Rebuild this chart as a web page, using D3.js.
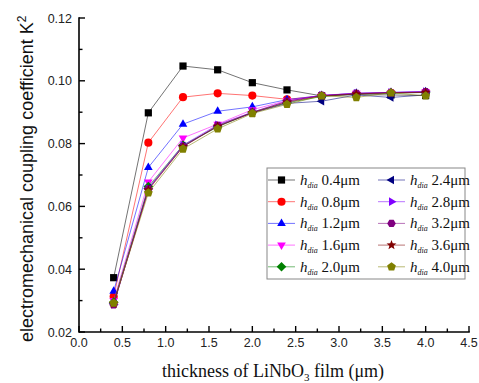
<!DOCTYPE html>
<meta charset="utf-8">
<head>
  <title>k2 vs thickness</title>
</head>
<style>
  body { margin: 0; background: #fff; }
  .tick-label { font-family: "Liberation Sans", Arial, sans-serif; font-size: 12.5px; fill: #222; }
  .ytitle { font-family: "Liberation Sans", Arial, sans-serif; font-size: 18px; fill: #111; }
  .xtitle { font-family: "Liberation Serif", "DejaVu Serif", serif; font-size: 18px; fill: #111; }
  .legend-text { font-family: "Liberation Serif", "DejaVu Serif", serif; font-size: 15px; fill: #111; }
</style>
<body>
  <svg width="479" height="383"></svg>

  <script src="https://cdnjs.cloudflare.com/ajax/libs/d3/7.8.5/d3.min.js"></script>
  <script>
    var thickness = [0.4, 0.8, 1.2, 1.6, 2.0, 2.4, 2.8, 3.2, 3.6, 4.0]

    var hdia = ['0.4', '0.8', '1.2', '1.6', '2.0', '2.4', '2.8', '3.2', '3.6', '4.0']

    var k2_04 = [0.0373, 0.0898, 0.1047, 0.1035, 0.0994, 0.0971, 0.0952, 0.0956, 0.0955, 0.0953]
    var k2_08 = [0.0313, 0.0803, 0.0948, 0.0960, 0.0953, 0.0941, 0.0952, 0.0958, 0.0962, 0.0963]
    var k2_12 = [0.0330, 0.0724, 0.0862, 0.0903, 0.0917, 0.0940, 0.0953, 0.0960, 0.0963, 0.0965]
    var k2_16 = [0.0300, 0.0678, 0.0818, 0.0862, 0.0908, 0.0937, 0.0953, 0.0960, 0.0962, 0.0965]
    var k2_20 = [0.0295, 0.0663, 0.0795, 0.0853, 0.0900, 0.0930, 0.0950, 0.0958, 0.0960, 0.0963]
    var k2_24 = [0.0290, 0.0658, 0.0792, 0.0856, 0.0898, 0.0928, 0.0935, 0.0955, 0.0947, 0.0955]
    var k2_28 = [0.0288, 0.0656, 0.0795, 0.0860, 0.0900, 0.0935, 0.0954, 0.0960, 0.0963, 0.0966]
    var k2_32 = [0.0287, 0.0655, 0.0790, 0.0858, 0.0900, 0.0935, 0.0953, 0.0960, 0.0962, 0.0965]
    var k2_36 = [0.0290, 0.0652, 0.0790, 0.0855, 0.0898, 0.0932, 0.0952, 0.0958, 0.0962, 0.0963]
    var k2_40 = [0.0292, 0.0643, 0.0783, 0.0847, 0.0896, 0.0925, 0.0952, 0.0947, 0.0962, 0.0952]

    var colors = ['#000000', '#ff0000', '#0000ff', '#ff00ff', '#008000',
      '#000080', '#8000ff', '#800080', '#800000', '#808000']
    var shapes = ['square', 'circle', 'up', 'down', 'diamond',
      'left', 'right', 'hexagon', 'star', 'pentagon']

    var xTicks = [0.0, 0.5, 1.0, 1.5, 2.0, 2.5, 3.0, 3.5, 4.0, 4.5]
    var yTicks = [0.02, 0.04, 0.06, 0.08, 0.10, 0.12]

    var allK2 = [k2_04, k2_08, k2_12, k2_16, k2_20, k2_24, k2_28, k2_32, k2_36, k2_40]
    var series = allK2.map(function(vals, i) {
      return {
        label: hdia[i],
        color: colors[i],
        shape: shapes[i],
        points: vals.map(function(v, j) { return { x: thickness[j], y: v } })
      }
    })

    var plotL = 79, plotR = 469, plotT = 18, plotB = 332

    var svg = d3.select('svg')

    var x = d3.scaleLinear().domain([0, 4.5]).range([plotL, plotR])
    var y = d3.scaleLinear().domain([0.02, 0.12]).range([plotB, plotT])

    // polygon markers in the style of origin
    function poly(n, r, rot) {
      var pts = []
      for (var k = 0; k < n; k++) {
        var a = rot + k * 2 * Math.PI / n
        pts.push([r * Math.cos(a), r * Math.sin(a)])
      }
      return 'M' + pts.map(function(p) { return p[0].toFixed(2) + ',' + p[1].toFixed(2) }).join('L') + 'Z'
    }
    function starPath(r) {
      var pts = []
      for (var k = 0; k < 10; k++) {
        var rr = k % 2 === 0 ? r : r * 0.42
        var a = -Math.PI / 2 + k * Math.PI / 5
        pts.push([rr * Math.cos(a), rr * Math.sin(a)])
      }
      return 'M' + pts.map(function(p) { return p[0].toFixed(2) + ',' + p[1].toFixed(2) }).join('L') + 'Z'
    }
    function markerPath(shape) {
      switch (shape) {
        case 'square': return 'M-3.6,-3.6L3.6,-3.6L3.6,3.6L-3.6,3.6Z'
        case 'circle': return d3.symbol().type(d3.symbolCircle).size(52)()
        case 'up': return poly(3, 5, -Math.PI / 2)
        case 'down': return poly(3, 5, Math.PI / 2)
        case 'left': return poly(3, 5, Math.PI)
        case 'right': return poly(3, 5, 0)
        case 'diamond': return poly(4, 4.8, 0)
        case 'hexagon': return poly(6, 4.3, 0)
        case 'star': return starPath(5.2)
        case 'pentagon': return poly(5, 4.6, -Math.PI / 2)
      }
    }

    // axes
    svg.append('line')
      .attr('x1', plotL).attr('x2', plotR + 0.8)
      .attr('y1', plotB).attr('y2', plotB)
      .attr('stroke', '#000').attr('stroke-width', 1.6)
    svg.append('line')
      .attr('x1', plotL).attr('x2', plotL)
      .attr('y1', plotT - 0.8).attr('y2', plotB + 0.8)
      .attr('stroke', '#000').attr('stroke-width', 1.6)

    svg.selectAll('.xtick')
      .data(d3.range(0, 19))
      .enter().append('line')
      .attr('x1', function(d) { return x(d * 0.25) })
      .attr('x2', function(d) { return x(d * 0.25) })
      .attr('y1', plotB)
      .attr('y2', function(d) { return d % 2 === 0 ? plotB - 6 : plotB - 3.5 })
      .attr('stroke', '#000').attr('stroke-width', 1.4)

    svg.selectAll('.ytick')
      .data(d3.range(0, 11))
      .enter().append('line')
      .attr('y1', function(d) { return y(0.02 + d * 0.01) })
      .attr('y2', function(d) { return y(0.02 + d * 0.01) })
      .attr('x1', plotL)
      .attr('x2', function(d) { return d % 2 === 0 ? plotL + 6 : plotL + 3.5 })
      .attr('stroke', '#000').attr('stroke-width', 1.4)

    svg.selectAll('.xlab')
      .data(xTicks)
      .enter().append('text')
      .attr('class', 'tick-label')
      .attr('x', function(d) { return x(d) })
      .attr('y', plotB + 15)
      .attr('text-anchor', 'middle')
      .text(function(d) { return d.toFixed(1) })

    svg.selectAll('.ylab')
      .data(yTicks)
      .enter().append('text')
      .attr('class', 'tick-label')
      .attr('x', plotL - 7)
      .attr('y', function(d) { return y(d) + 4.5 })
      .attr('text-anchor', 'end')
      .text(function(d) { return d.toFixed(2) })

    // titles
    var yt = svg.append('text')
      .attr('class', 'ytitle')
      .attr('transform', 'translate(33,342) rotate(-90)')
      .attr('text-anchor', 'start')
    yt.append('tspan').text('electromechanical coupling coefficient K')
    yt.append('tspan').attr('dy', -7).attr('font-size', '12px').text('2')

    var xt = svg.append('text')
      .attr('class', 'xtitle')
      .attr('x', (plotL + plotR) / 2 - 1)
      .attr('y', 377)
      .attr('text-anchor', 'middle')
    xt.append('tspan').text('thickness of LiNbO')
    xt.append('tspan').attr('dy', 4).attr('font-size', '11px').text('3')
    xt.append('tspan').attr('dy', -4).text(' film (\u03bcm)')

    // series
    var line = d3.line()
      .x(function(d) { return x(d.x) })
      .y(function(d) { return y(d.y) })

    var sg = svg.selectAll('.series')
      .data(series)
      .enter().append('g')

    sg.append('path')
      .attr('d', function(d) { return line(d.points) })
      .attr('fill', 'none')
      .attr('stroke', function(d) { return d.color })
      .attr('stroke-opacity', 0.55)
      .attr('stroke-width', 1)

    sg.selectAll('.pt')
      .data(function(d) { return d.points.map(function(p) { return { p: p, s: d } }) })
      .enter().append('path')
      .attr('d', function(d) { return markerPath(d.s.shape) })
      .attr('transform', function(d) { return 'translate(' + x(d.p.x) + ',' + y(d.p.y) + ')' })
      .attr('fill', function(d) { return d.s.color })

    // legend
    var lg = svg.append('g')
    lg.append('rect')
      .attr('x', 267).attr('y', 168)
      .attr('width', 198).attr('height', 111)
      .attr('fill', '#fff')
      .attr('stroke', '#888').attr('stroke-width', 1)

    var items = lg.selectAll('.item')
      .data(series)
      .enter().append('g')
      .attr('transform', function(d, i) {
        var col = Math.floor(i / 5), row = i % 5
        return 'translate(' + (col === 0 ? 268 : 378) + ',' + (180 + row * 21.7) + ')'
      })

    items.append('line')
      .attr('x1', 0).attr('x2', 27)
      .attr('stroke', function(d) { return d.color })
      .attr('stroke-opacity', 0.55)
      .attr('stroke-width', 1)
    items.append('path')
      .attr('d', function(d) { return markerPath(d.shape) })
      .attr('transform', 'translate(13.5,0)')
      .attr('fill', function(d) { return d.color })

    var lt = items.append('text')
      .attr('class', 'legend-text')
      .attr('x', 32)
      .attr('y', 5)
    lt.append('tspan').attr('font-style', 'italic').text('h')
    lt.append('tspan').attr('font-style', 'italic').attr('font-size', '8px').attr('dy', 3).text('dia')
    lt.append('tspan').attr('dy', -3).text(function(d) { return ' ' + d.label + '\u03bcm' })
  </script>
</body>
